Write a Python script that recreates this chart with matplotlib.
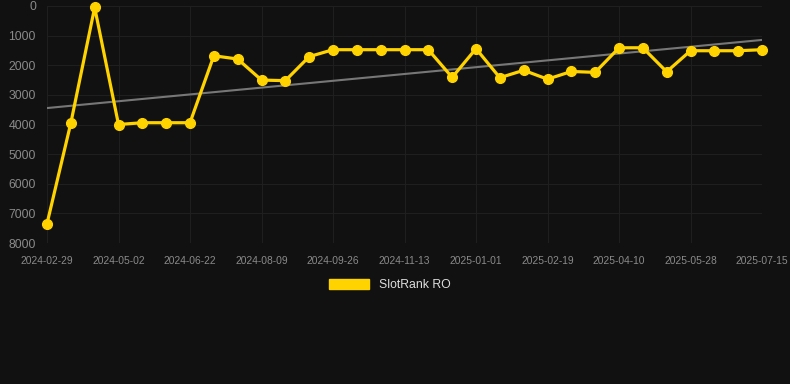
import numpy as np
import matplotlib
matplotlib.use("Agg")
import matplotlib.pyplot as plt
from matplotlib.patches import Patch

plt.rcParams["font.family"] = ["Liberation Sans", "DejaVu Sans"]

# rank values (lower is better), one point per sample
rank = [7350, 3950, 50, 4000, 3940, 3940, 3940, 1680, 1790, 2500, 2520,
        1710, 1475, 1475, 1475, 1475, 1475, 2410, 1440, 2420, 2170, 2470,
        2210, 2240, 1410, 1410, 2220, 1510, 1510, 1510, 1475]
tick_labels = ["2024-02-29", "2024-05-02", "2024-06-22", "2024-08-09",
               "2024-09-26", "2024-11-13", "2025-01-01", "2025-02-19",
               "2025-04-10", "2025-05-28", "2025-07-15"]
y_ticks = [0, 1000, 2000, 3000, 4000, 5000, 6000, 7000, 8000]

bg = "#111111"
gold = "#ffd300"

x = np.arange(len(rank))
coef = np.polyfit(x, rank, 1)
trend = np.polyval(coef, x)

fig = plt.figure(figsize=(7.9, 3.84), dpi=100, facecolor=bg)
ax = fig.add_axes([47/790, 1 - 243/384, (762 - 47)/790, (243 - 6)/384])
ax.set_facecolor(bg)

ax.plot(x, trend, color="#777777", lw=1.5, zorder=2)
ax.plot(x, rank, color=gold, lw=2.3, marker="o", ms=7, zorder=3, clip_on=False)

ax.set_xlim(0, len(rank) - 1)
ax.set_ylim(8000, 0)
ax.set_yticks(y_ticks)
ax.set_xticks(x[::3])
ax.set_xticklabels(tick_labels)
ax.grid(True, color="#1f1f1f", lw=0.8)
ax.set_axisbelow(True)
for s in ax.spines.values():
    s.set_visible(False)
ax.tick_params(axis="y", colors="#8a8a8a", labelsize=8.8, length=0, pad=8)
ax.tick_params(axis="x", colors="#8a8a8a", labelsize=7.4, length=0, pad=9)

fig.legend(handles=[Patch(color=gold, label="SlotRank RO")],
           loc="center", bbox_to_anchor=(390/790, 1 - 285/384), frameon=False,
           handlelength=3.3, handleheight=0.9, fontsize=8.8, labelcolor="#dddddd")

fig.savefig("out.png", facecolor=bg)
